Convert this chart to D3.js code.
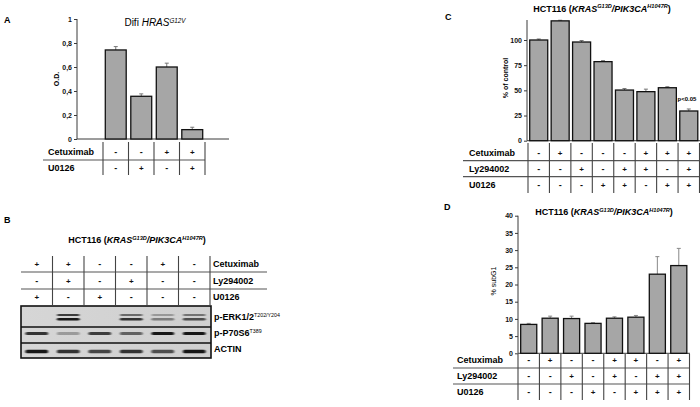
<!DOCTYPE html>
<html><head><meta charset="utf-8">
<script src="https://cdn.jsdelivr.net/npm/d3@7"></script>
<style>body{margin:0;background:#fff}svg{display:block;font-family:Arial,"Liberation Sans",sans-serif}</style>
</head><body><svg id="c" width="700" height="407"></svg>
<script>
// ---------- Panel A data ----------
const aCategories = ['Control','U0126','Cetuximab','Cetuximab+U0126'];
const aValues = [0.742, 0.356, 0.600, 0.078];
const aErrors = [0.028, 0.020, 0.032, 0.020];
const aTicks = [0, 0.2, 0.4, 0.6, 0.8, 1];
const aTickLabels = ['0', '0,2', '0,4', '0,6', '0,8', '1'];
const aCetuximab = ['-', '-', '+', '+'];
const aU0126 = ['-', '+', '-', '+'];

// ---------- Panel B data (western blot) ----------
const bLanes = ['L1','L2','L3','L4','L5','L6'];
const bCetuximab = ['+', '+', '-', '-', '+', '-'];
const bLy294002 = ['-', '+', '-', '+', '-', '-'];
const bU0126 = ['+', '-', '+', '-', '-', '-'];
const bErkUpper = [0, 0.8, 0, 0.55, 0.3, 0.5];
const bErkLower = [0, 1.0, 0, 0.85, 0.45, 0.7];
const bP70 = [0.85, 0.3, 0.8, 0.6, 1.0, 1.0];
const bActin = [1.0, 0.85, 0.75, 0.85, 0.7, 1.0];

// ---------- Panel C data ----------
const cCategories = ['c1','c2','c3','c4','c5','c6','c7','c8'];
const cValues = [100, 119, 98, 78.5, 50.3, 48.7, 52.6, 29.5];
const cErrors = [1, 0.6, 1.5, 1, 1.5, 2.5, 1, 2];
const cTicks = [0, 25, 50, 75, 100];
const cCetuximab = ['-', '+', '-', '-', '-', '+', '+', '+'];
const cLy294002 = ['-', '-', '+', '-', '+', '+', '-', '+'];
const cU0126 = ['-', '-', '-', '+', '+', '-', '+', '+'];

// ---------- Panel D data ----------
const dCategories = ['d1','d2','d3','d4','d5','d6','d7','d8'];
const dValues = [8.4, 10.2, 10.1, 8.7, 10.2, 10.5, 23.0, 25.5];
const dErrors = [0.3, 0.6, 0.7, 0.2, 0.4, 0.5, 5.1, 5.0];
const dTicks = [0, 5, 10, 15, 20, 25, 30, 35, 40];
const dCetuximab = ['-', '+', '-', '-', '+', '+', '-', '+'];
const dLy294002 = ['-', '-', '+', '-', '+', '-', '+', '+'];
const dU0126 = ['-', '-', '-', '+', '-', '+', '+', '+'];

const svg = d3.select('#c');
svg.append('rect').attr('width',700).attr('height',407).attr('fill','#fff');

const BAR_FILL = '#a6a6a6';
const LINE = '#3a3a3a';

function text(g, x, y, str, opts = {}) {
  return g.append('text').attr('x', x).attr('y', y)
    .attr('font-size', opts.size || 9)
    .attr('font-weight', opts.weight || 'bold')
    .attr('text-anchor', opts.anchor || 'start')
    .attr('fill', opts.fill || '#000')
    .text(str);
}

// rich text with superscripts: parts = [[str, {italic, sup}], ...]
function rich(g, x, y, parts, opts = {}) {
  const t = g.append('text').attr('x', x).attr('y', y)
    .attr('font-size', opts.size || 9)
    .attr('font-weight', opts.weight || 'bold')
    .attr('text-anchor', opts.anchor || 'start');
  let raised = false;
  parts.forEach(([s, o = {}]) => {
    const ts = t.append('tspan').text(s);
    if (o.italic) ts.attr('font-style', 'italic');
    if (o.sup && !raised) { ts.attr('dy', -3.2).attr('font-size', opts.supSize || 5.6).attr('font-weight', o.weight || opts.supWeight || 'bold'); raised = true; }
    else if (o.sup) { ts.attr('font-size', opts.supSize || 5.6); }
    else if (!o.sup && raised) { ts.attr('dy', 3.2); raised = false; }
  });
  return t;
}

function barChart(cfg) {
  const g = svg.append('g');
  const x = d3.scaleBand().domain(cfg.categories).range(cfg.xRange)
    .paddingInner(cfg.pad).paddingOuter(cfg.pad / 2);
  const y = d3.scaleLinear().domain(cfg.yDomain).range(cfg.yRange);
  g.append('line').attr('x1', cfg.axisX).attr('x2', cfg.baseX1)
    .attr('y1', y(0)).attr('y2', y(0)).attr('stroke', LINE).attr('stroke-width', 1);
  const eg = g.append('g').attr('stroke', cfg.errColor || '#777').attr('stroke-width', 1);
  cfg.categories.forEach((c, i) => {
    const cx = x(c) + x.bandwidth() / 2;
    const top = y(cfg.values[i] + cfg.errors[i]);
    eg.append('line').attr('x1', cx).attr('x2', cx).attr('y1', y(cfg.values[i])).attr('y2', top);
    eg.append('line').attr('x1', cx - 2).attr('x2', cx + 2).attr('y1', top).attr('y2', top);
  });
  g.selectAll(null).data(cfg.values).join('rect')
    .attr('x', (d, i) => x(cfg.categories[i]))
    .attr('y', d => y(d))
    .attr('width', x.bandwidth())
    .attr('height', d => y(0) - y(d))
    .attr('fill', BAR_FILL).attr('stroke', '#111').attr('stroke-width', 1.3);
  const ax = d3.axisLeft(y).tickValues(cfg.ticks)
    .tickFormat((d, i) => cfg.tickLabels ? cfg.tickLabels[i] : d)
    .tickSize(3).tickPadding(2);
  const axg = g.append('g').attr('transform', `translate(${cfg.axisX},0)`).call(ax);
  axg.select('.domain').remove();
  axg.selectAll('.tick line').attr('stroke', LINE);
  axg.selectAll('.tick text').attr('font-size', 7).attr('font-weight', 'bold')
    .attr('font-family', 'Arial,"Liberation Sans",sans-serif').attr('fill', '#111');
  g.append('line').attr('x1', cfg.axisX).attr('x2', cfg.axisX)
    .attr('y1', cfg.axisTop).attr('y2', y(0)).attr('stroke', LINE).attr('stroke-width', 1);
  g.append('text').attr('transform', `translate(${cfg.yLabelX},${cfg.yLabelY}) rotate(-90)`)
    .attr('text-anchor', 'middle').attr('font-size', 7)
    .attr('font-weight', cfg.yLabelWeight || 'bold').text(cfg.yLabel);
  return { g, x, y };
}

function table(cfg) {
  const g = svg.append('g');
  const x = d3.scaleBand().domain(cfg.categories).range(cfg.xRange).padding(0);
  cfg.hLines.forEach(yy => g.append('line').attr('x1', cfg.hx0).attr('x2', cfg.hx1)
    .attr('y1', yy).attr('y2', yy).attr('stroke', '#555').attr('stroke-width', 1.2));
  const bounds = cfg.categories.map(c => x(c)).concat([cfg.xRange[1]]);
  bounds.forEach((bx, i) => {
    if (i === 0 && !cfg.leftLine) return;
    g.append('line').attr('x1', bx).attr('x2', bx).attr('y1', cfg.vy0).attr('y2', cfg.vy1)
      .attr('stroke', '#444').attr('stroke-width', 1.1);
  });
  cfg.rows.forEach((r, ri) => {
    const yy = cfg.rowY[ri];
    text(g, cfg.labelX, yy + 3.2, r.label, { size: 9, anchor: 'start' });
    r.values.forEach((v, i) => {
      text(g, x(cfg.categories[i]) + x.bandwidth() / 2, yy + 3, v,
        { size: v === '+' ? 8 : 9, anchor: 'middle', fill: '#111' });
    });
  });
  return { g, x };
}

// ================= Panel A =================
text(svg, 4, 23, 'A', { size: 9 });
barChart({
  categories: aCategories, values: aValues, errors: aErrors,
  xRange: [103, 205], pad: 0.18, yDomain: [0, 1], yRange: [139, 19],
  axisX: 77, axisTop: 19, baseX1: 229, ticks: aTicks, tickLabels: aTickLabels,
  yLabel: 'O.D.', yLabelX: 59, yLabelY: 79
});
rich(svg, 155, 26, [['Difi '], ['HRAS', { italic: true }], ['G12V', { sup: true, italic: true }]],
  { size: 10, weight: 'normal', anchor: 'middle', supSize: 6.3, supWeight: 'normal' });
table({
  categories: aCategories, xRange: [103, 205], leftLine: true,
  hLines: [160], hx0: 43, hx1: 205, vy0: 142, vy1: 175,
  rows: [{ label: 'Cetuximab', values: aCetuximab }, { label: 'U0126', values: aU0126 }],
  rowY: [152, 168], labelX: 48
});

// ================= Panel B =================
text(svg, 4, 223, 'B', { size: 9 });
rich(svg, 137, 243, [['HCT116 ('], ['KRAS', { italic: true }], ['G13D', { sup: true, italic: true }],
  ['/PIK3CA', { italic: true }], ['H1047R', { sup: true, italic: true }], [')']],
  { size: 9, anchor: 'middle', supSize: 5.6 });
table({
  categories: bLanes, xRange: [21, 210], leftLine: false,
  hLines: [272, 289], hx0: 21, hx1: 267, vy0: 256, vy1: 305,
  rows: [{ label: 'Cetuximab', values: bCetuximab }, { label: 'Ly294002', values: bLy294002 },
    { label: 'U0126', values: bU0126 }],
  rowY: [264, 281, 297], labelX: 213
});
const defs = svg.append('defs');
defs.append('filter').attr('id', 'blur').attr('x', '-20%').attr('y', '-100%').attr('width', '140%').attr('height', '300%')
  .append('feGaussianBlur').attr('stdDeviation', '1 0.5');
const grad = defs.append('linearGradient').attr('id', 'bg').attr('x1', 0).attr('x2', 1).attr('y1', 0).attr('y2', 0);
grad.append('stop').attr('offset', '0%').attr('stop-color', '#d6d6d6');
grad.append('stop').attr('offset', '100%').attr('stop-color', '#cfcfcf');
const blot = svg.append('g');
const lx = d3.scaleBand().domain(bLanes).range([21, 210]).padding(0);
blot.append('rect').attr('x', 21).attr('y', 306).attr('width', 190).attr('height', 52)
  .attr('fill', 'url(#bg)');
function bands(arr, cy, h, wScale = 0.72) {
  blot.selectAll(null).data(arr).join('rect')
    .attr('x', (d, i) => lx(bLanes[i]) + lx.bandwidth() * (1 - wScale) / 2)
    .attr('y', cy - h / 2).attr('width', lx.bandwidth() * wScale).attr('height', h)
    .attr('rx', 1.5)
    .attr('fill', '#0a0a0a').attr('opacity', d => d * 0.95)
    .attr('filter', 'url(#blur)');
}
bands(bErkUpper, 315, 2);
bands(bErkLower, 319.2, 2.6);
bands(bP70, 333.5, 3);
bands(bActin, 351.5, 3.6);
blot.append('line').attr('x1', 21).attr('x2', 211).attr('y1', 327).attr('y2', 327).attr('stroke', '#111').attr('stroke-width', 1.3);
blot.append('line').attr('x1', 21).attr('x2', 211).attr('y1', 343).attr('y2', 343).attr('stroke', '#111').attr('stroke-width', 1.3);
blot.append('rect').attr('x', 21).attr('y', 306).attr('width', 190).attr('height', 52)
  .attr('fill', 'none').attr('stroke', '#111').attr('stroke-width', 1.6);
rich(svg, 214, 320, [['p-ERK1/2'], ['T202/Y204', { sup: true }]], { size: 9, supSize: 5.3, supWeight: 'normal' });
rich(svg, 214, 336, [['p-P70S6'], ['T389', { sup: true }]], { size: 9, supSize: 5.3, supWeight: 'normal' });
text(svg, 214, 352, 'ACTIN', { size: 9 });

// ================= Panel C =================
text(svg, 445, 20, 'C', { size: 9 });
rich(svg, 602, 11.5, [['HCT116 ('], ['KRAS', { italic: true }], ['G13D', { sup: true, italic: true }],
  ['/PIK3CA', { italic: true }], ['H1047R', { sup: true, italic: true }], [')']],
  { size: 9, anchor: 'middle', supSize: 5.6 });
barChart({
  categories: cCategories, values: cValues, errors: cErrors,
  xRange: [528, 699.5], pad: 0.16, yDomain: [0, 100], yRange: [140.7, 40],
  axisX: 527, axisTop: 20, baseX1: 700, ticks: cTicks,
  yLabel: '% of control', yLabelX: 508, yLabelY: 78
});
text(svg, 687, 101, 'p<0.05', { size: 6, anchor: 'middle' });
table({
  categories: cCategories, xRange: [528, 699.5], leftLine: true,
  hLines: [160.7, 176.7], hx0: 463, hx1: 700, vy0: 143, vy1: 193,
  rows: [{ label: 'Cetuximab', values: cCetuximab }, { label: 'Ly294002', values: cLy294002 },
    { label: 'U0126', values: cU0126 }],
  rowY: [153, 169, 185], labelX: 469
});

// ================= Panel D =================
text(svg, 444, 210, 'D', { size: 9 });
rich(svg, 604, 215, [['HCT116 ('], ['KRAS', { italic: true }], ['G13D', { sup: true, italic: true }],
  ['/PIK3CA', { italic: true }], ['H1047R', { sup: true, italic: true }], [')']],
  { size: 9, anchor: 'middle', supSize: 5.6 });
barChart({
  categories: dCategories, values: dValues, errors: dErrors,
  xRange: [518, 689.5], pad: 0.25, yDomain: [0, 40], yRange: [353.3, 215.7],
  axisX: 518, axisTop: 215.7, baseX1: 690, ticks: dTicks,
  yLabel: '% subG1', yLabelX: 496, yLabelY: 281, yLabelWeight: 'normal', errColor: '#888'
});
table({
  categories: dCategories, xRange: [518, 689.5], leftLine: true,
  hLines: [368, 384], hx0: 453, hx1: 690, vy0: 354, vy1: 400,
  rows: [{ label: 'Cetuximab', values: dCetuximab }, { label: 'Ly294002', values: dLy294002 },
    { label: 'U0126', values: dU0126 }],
  rowY: [360, 376, 392], labelX: 457
});
</script></body></html>
